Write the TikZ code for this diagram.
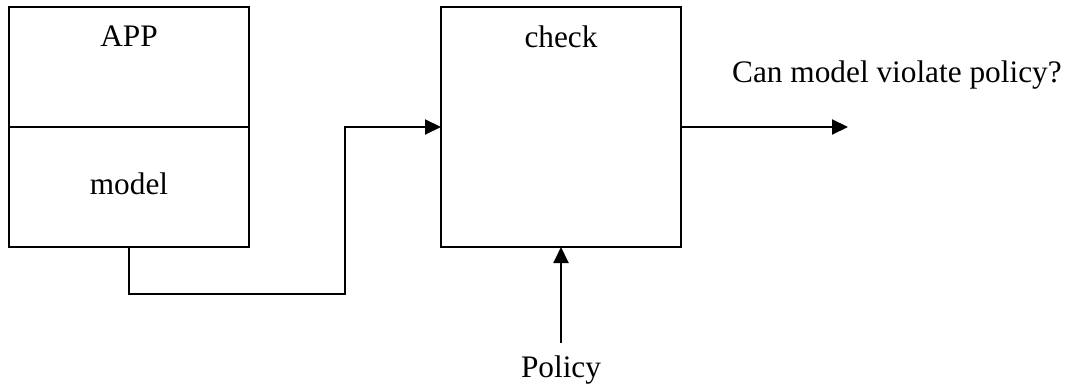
\documentclass[tikz,border=0pt]{standalone}
\usepackage{fontspec}
\setmainfont{Liberation Serif}
\usetikzlibrary{arrows.meta}
\begin{document}
\begin{tikzpicture}[x=1pt,y=-1pt,
  box/.style={draw,line width=2.5pt,minimum width=240pt,inner sep=0pt,outer sep=0pt},
  lbl/.style={font=\fontsize{31.3}{37}\selectfont,anchor=base,inner sep=0pt},
  conn/.style={line width=2pt,-{Triangle[length=16pt,width=15pt]}}]
\useasboundingbox (0,0) rectangle (1073,390);
\node[box,minimum height=120pt] (app) at (129,67) {};
\node[box,minimum height=120pt] (mdl) at (129,187) {};
\node[box,minimum height=240pt] (chk) at (561,127) {};
\node[lbl] (apptxt) at (129,47) {APP};
\node[lbl] (mdltxt) at (129,195) {model};
\node[lbl] (chktxt) at (561,48) {check};
\node[lbl,anchor=base west] (q) at (732,83) {Can model violate policy?};
\node[lbl] (pol) at (561,377) {Policy};
\coordinate (c1) at (345,294);
\coordinate (out) at (848,127);
\coordinate (polt) at (561,343);
\draw[conn] (mdl.south) |- (c1) |- (chk.west);
\draw[conn] (chk.east) -- (out);
\draw[conn] (polt) -- (chk.south);
\end{tikzpicture}
\end{document}
